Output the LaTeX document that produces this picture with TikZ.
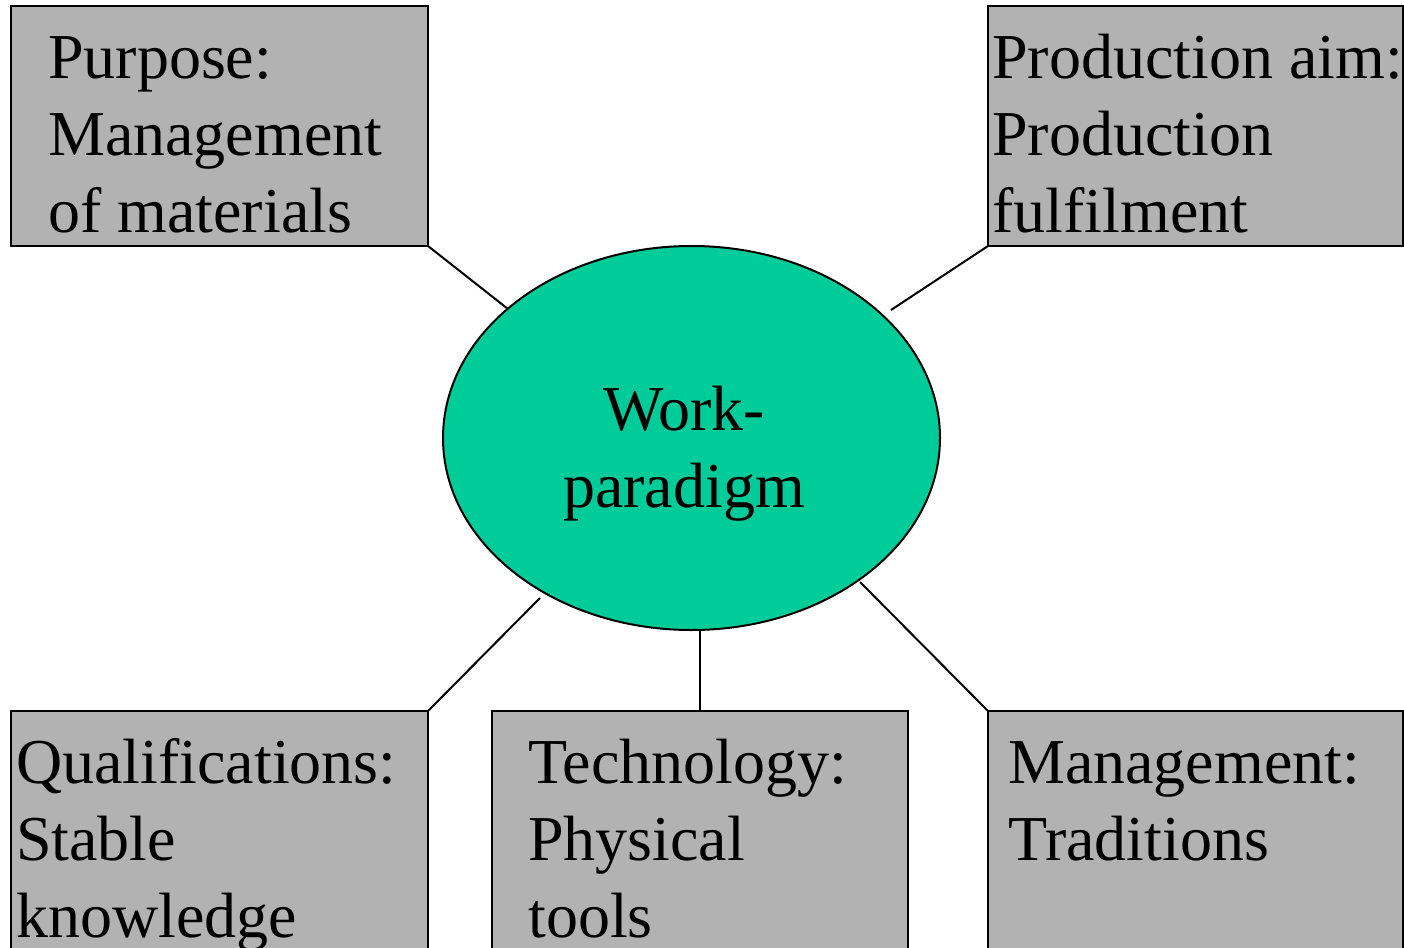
\documentclass[tikz,border=0pt]{standalone}
\usepackage{fontspec}
\setmainfont{Liberation Serif}
\usetikzlibrary{shapes.geometric}
\definecolor{boxgray}{HTML}{B2B2B2}
\definecolor{ellgreen}{HTML}{00CC99}
\begin{document}
\begin{tikzpicture}[x=1pt,y=-1pt,
  box/.style={draw=black,fill=boxgray,line width=2pt},
  lbl/.style={anchor=base west,inner sep=0pt,align=left,font=\fontsize{64}{77}\selectfont},
  conn/.style={draw=black,line width=2pt}]
\useasboundingbox (0,0) rectangle (1404,947);
% boxes
\draw[box] (11,6) rectangle (428,246);
\draw[box] (988,6) rectangle (1403,246);
\draw[box] (11,711) rectangle (428,980);
\draw[box] (492,711) rectangle (908,980);
\draw[box] (988,711) rectangle (1403,980);
\coordinate (tl) at (428,246);
\coordinate (tr) at (988,246);
\coordinate (bl) at (428,711);
\coordinate (bm) at (700,711);
\coordinate (br) at (988,711);
% ellipse
\node[ellipse,draw=black,fill=ellgreen,line width=2pt,inner sep=0pt,minimum width=497pt,minimum height=384pt] (ell) at (691.5,438) {};
\coordinate (etl) at (508,309);
\coordinate (etr) at (891,310);
\coordinate (ebl) at (540,598);
\coordinate (ebm) at (700,630);
\coordinate (ebr) at (860,582);
\draw[conn] (tl) -- (etl);
\draw[conn] (tr) -- (etr);
\draw[conn] (bl) -- (ebl);
\draw[conn] (bm) -- (ebm);
\draw[conn] (br) -- (ebr);
% texts (anchor = baseline of last line)
\node[lbl] (t1) at (48,232) {Purpose:\\Management\\of materials};
\node[lbl] (t2) at (992,232) {Production aim:\\Production\\fulfilment};
\node[lbl] (t3) at (16,937) {Qualifications:\\Stable\\knowledge};
\node[lbl] (t4) at (528,937) {Technology:\\Physical\\tools};
\node[lbl] (t5) at (1008,860) {Management:\\Traditions};
\node[inner sep=0pt,align=center,font=\fontsize{64}{77}\selectfont,anchor=base] (tc) at (684,507) {Work-\\paradigm};
\end{tikzpicture}
\end{document}
